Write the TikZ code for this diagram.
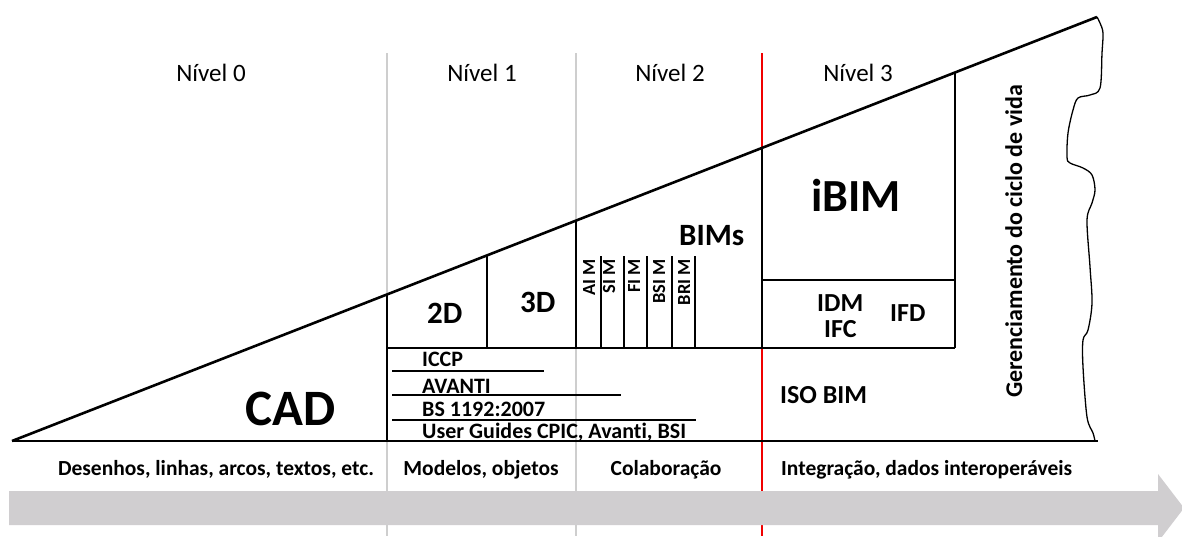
\documentclass[tikz,border=0pt]{standalone}
\usepackage{fontspec}
\setmainfont{Carlito}[Ligatures=NoCommon]
\definecolor{arrowgray}{RGB}{208,206,208}
\definecolor{linegray}{RGB}{206,206,206}
\definecolor{lvred}{RGB}{240,0,0}
\begin{document}
\begin{tikzpicture}[x=1pt,y=-1pt,
  thick line/.style={line width=2.6pt},
  thin line/.style={line width=1.3pt},
  col line/.style={line width=1.6pt},
  sep gray/.style={line width=2.4pt, draw=linegray},
  sep red/.style={line width=2pt, draw=lvred},
  lvl/.style={inner sep=0pt, anchor=base, font=\fontsize{25}{30}\selectfont},
  bot/.style={inner sep=0pt, anchor=base, font=\bfseries\fontsize{21.5}{26}\selectfont},
  std/.style={inner sep=0pt, anchor=base west, font=\bfseries\fontsize{22}{26}\selectfont},
  big/.style={inner sep=0pt, anchor=base west, font=\bfseries\fontsize{#1}{#1}\selectfont},
  vert/.style={inner sep=0pt, anchor=base east, rotate=90, font=\bfseries\fontsize{18.5}{22}\selectfont}]
\useasboundingbox (0,0) rectangle (1182,536);
\fill[white] (0,0) rectangle (1182,536);

% separator lines
\draw[sep gray] (387,53) -- (387,536);
\draw[sep gray] (576,53) -- (576,536);
\draw[sep red] (762,53) -- (762,536);

% level labels
\node[lvl] (n0) at (211,81) {Nível 0};
\node[lvl] (n1) at (482,81) {Nível 1};
\node[lvl] (n2) at (670,81) {Nível 2};
\node[lvl] (n3) at (858,81) {Nível 3};

% main triangle
\coordinate (A) at (12,441);
\coordinate (B) at (1097,17);
\coordinate (C) at (1098,441);
\draw[thick line] (A) -- (B);
\draw[thick line] (A) -- (C);
\draw[line width=1.3pt] plot[smooth, tension=0.55] coordinates {(1097,17) (1100,23) (1103,33) (1102,53) (1100,88) (1090,95) (1078,98) (1073,110) (1068,133) (1067,157) (1070,163) (1083,168) (1092,175) (1095,190) (1092,203) (1087,220) (1090,267) (1092,303) (1088,330) (1083,340) (1083,367) (1087,417) (1093,433) (1095,441)};

% inner structure
\draw[thick line] (387,294.5) -- (387,441);
\draw[thick line] (387,348) -- (955,348);
\draw[thick line] (487,255.4) -- (487,348);
\draw[thick line] (576,220.6) -- (576,348);
\draw[thick line] (762,147.9) -- (762,348);
\draw[thick line] (955,72.5) -- (955,348);
\draw[thick line] (762,280) -- (955,280);
\foreach \x in {601,624,647,672,695}
  \draw[col line] (\x,256) -- (\x,348);

% underlines
\draw[thin line] (392,371) -- (544,371);
\draw[thin line] (392,395) -- (621,395);
\draw[thin line] (392,420) -- (696,420);

% texts
\node[big=51] (cad) at (245,425) {CAD};
\node[big=31] (t2d) at (427,323) {2D};
\node[big=31] (t3d) at (520,312) {3D};
\node[big=31] (bims) at (679,245) {BIMs};
\node[big=46] (ibim) at (811,211) {iBIM};
\node[big=26] (idm) at (817,311) {IDM};
\node[big=26] (ifc) at (824,337) {IFC};
\node[big=26] (ifd) at (890,321) {IFD};
\node[big=26] (iso) at (780,403) {ISO BIM};
\node[std] (iccp) at (422,366) {ICCP};
\node[std] (avanti) at (422,393) {AVANTI};
\node[std] (bs) at (422,416) {BS 1192:2007};
\node[std] (ug) at (422,438) {User Guides CPIC, Avanti, BSI};
\node[inner sep=0pt, anchor=base west, rotate=90, font=\bfseries\fontsize{24}{28}\selectfont] (ger) at (1022,398) {Gerenciamento do ciclo de vida};
\node[vert] (aim) at (595,259) {AI M};
\node[vert] (sim) at (615,259) {SI M};
\node[vert] (fim) at (640,259) {FI M};
\node[vert] (bsim) at (665,259) {BSI M};
\node[vert] (brim) at (690,259) {BRI M};

% bottom labels
\node[bot] (b0) at (216,475) {Desenhos, linhas, arcos, textos, etc.};
\node[bot] (b1) at (481,475) {Modelos, objetos};
\node[bot] (b2) at (666,475) {Colaboração};
\node[bot, anchor=base west] (b3) at (781,475) {Integração, dados interoperáveis};

% big arrow
\fill[arrowgray] (9,491) -- (1158,491) -- (1158,474) -- (1184,508) -- (1158,542) -- (1158,525) -- (9,525) -- cycle;
\end{tikzpicture}
\end{document}
